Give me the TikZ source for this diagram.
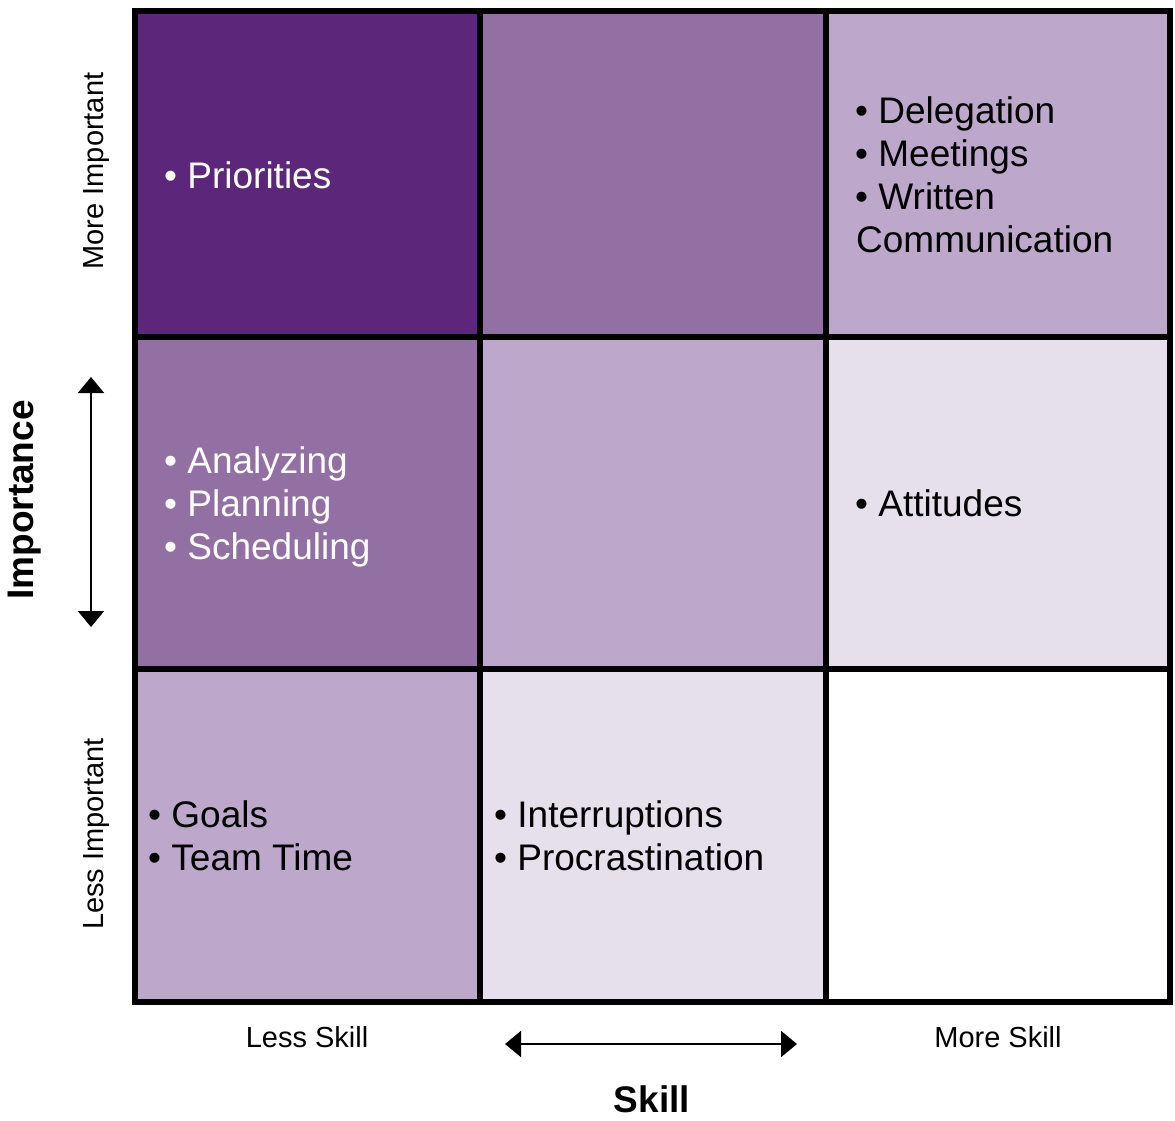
\documentclass[tikz,border=0pt]{standalone}
\usepackage{fontspec}
\setmainfont{Liberation Sans}
\usetikzlibrary{arrows.meta}
\definecolor{pdark}{RGB}{92,39,122}
\definecolor{pmed}{RGB}{147,112,163}
\definecolor{plight}{RGB}{189,168,204}
\definecolor{pvlight}{RGB}{230,224,236}
\tikzset{
  celltext/.style={anchor=base west, inner sep=0pt, font=\fontsize{37}{43}\selectfont},
  wtext/.style={celltext, text=white},
  axislabel/.style={anchor=base, inner sep=0pt, font=\fontsize{29}{34}\selectfont},
  axistitle/.style={anchor=base, inner sep=0pt, font=\fontsize{37}{43}\selectfont\bfseries},
  gridline/.style={line width=6pt, black},
  dblarrow/.style={line width=2pt, {Triangle[width=26pt,length=16pt]}-{Triangle[width=26pt,length=16pt]}},
}
\begin{document}
\begin{tikzpicture}[x=1pt, y=-1pt]
\useasboundingbox (0,0) rectangle (1175,1120);
% cell fills
\fill[pdark]   (134.5,10.5) rectangle (480,337);
\fill[pmed]    (480,10.5) rectangle (825.5,337);
\fill[plight]  (825.5,10.5) rectangle (1170,337);
\fill[pmed]    (134.5,337) rectangle (480,669);
\fill[plight]  (480,337) rectangle (825.5,669);
\fill[pvlight] (825.5,337) rectangle (1170,669);
\fill[plight]  (134.5,669) rectangle (480,1001.5);
\fill[pvlight] (480,669) rectangle (825.5,1001.5);
\fill[white]   (825.5,669) rectangle (1170,1001.5);
% grid
\draw[gridline] (480,10.5) -- (480,1001.5);
\draw[gridline] (825.5,10.5) -- (825.5,1001.5);
\draw[gridline] (134.5,337) -- (1170,337);
\draw[gridline] (134.5,669) -- (1170,669);
\draw[gridline] (134.5,10.5) rectangle (1170,1001.5);
% cell texts
\node[wtext] (pri) at (164,188) {• Priorities};
\node[wtext] (ana) at (164,473) {• Analyzing};
\node[wtext] (pla) at (164,516) {• Planning};
\node[wtext] (sch) at (164,559) {• Scheduling};
\node[celltext] (del) at (855,123) {• Delegation};
\node[celltext] (mee) at (855,166) {• Meetings};
\node[celltext] (wri) at (855,209) {• Written};
\node[celltext] (com) at (856,252) {Communication};
\node[celltext] (att) at (855,516) {• Attitudes};
\node[celltext] (goa) at (148,827) {• Goals};
\node[celltext] (tea) at (148,870) {• Team Time};
\node[celltext] (int) at (494,827) {• Interruptions};
\node[celltext] (pro) at (494,870) {• Procrastination};
% axis labels
\node[axislabel, rotate=90] (moreimp) at (103,171) {More Important};
\node[axislabel, rotate=90] (lessimp) at (103,834) {Less Important};
\node[axistitle, rotate=90] (imp) at (33,500) {Importance};
\node[axislabel] (lessskill) at (307,1047) {Less Skill};
\node[axislabel] (moreskill) at (998,1047) {More Skill};
\node[axistitle] (skill) at (652,1112) {Skill};
% arrows
\coordinate (iup) at (91,377);
\coordinate (idown) at (91,627);
\coordinate (sleft) at (505,1044);
\coordinate (sright) at (797,1044);
\draw[dblarrow] (iup) -- (idown);
\draw[dblarrow] (sleft) -- (sright);
\end{tikzpicture}
\end{document}
